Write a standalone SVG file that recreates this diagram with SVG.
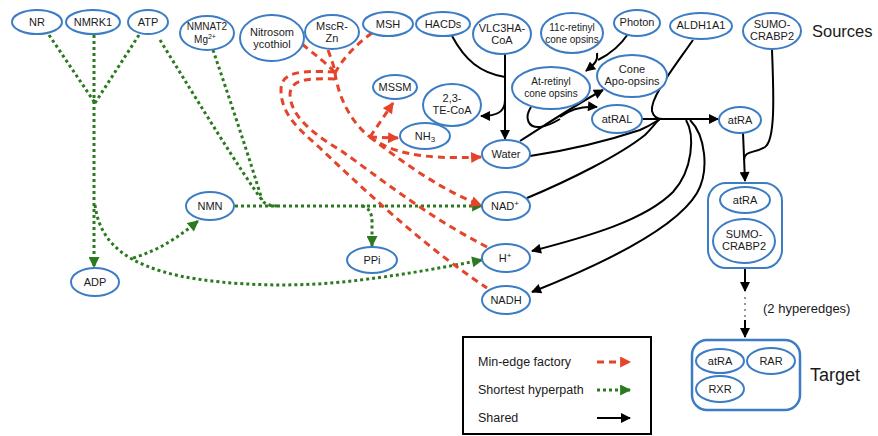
<svg xmlns="http://www.w3.org/2000/svg" width="878" height="436" viewBox="0 0 878 436">
<style>
.n ellipse{fill:#fff;stroke:#3c7cc4;stroke-width:2}
.box{fill:#fff;stroke:#3c7cc4;stroke-width:2}
text{font-family:"Liberation Sans",Arial,sans-serif;font-size:11px;fill:#1a1a1a;text-anchor:middle}
text.s10{font-size:10px}
text.lab{text-anchor:start}
text.f12{font-size:12.5px}
text.f13{font-size:13px}
text.f16{font-size:16.5px}
text.f18{font-size:18px}
.r{fill:none;stroke:#e5432a;stroke-width:3;stroke-dasharray:7 5}
.g{fill:none;stroke:#2b7a1f;stroke-width:3;stroke-dasharray:3 3}
.b{fill:none;stroke:#000;stroke-width:2}
</style>
<defs>
<marker id="ar" viewBox="0 0 10 10" refX="9" refY="5" markerWidth="12" markerHeight="11" orient="auto" markerUnits="userSpaceOnUse"><path d="M0,0 L10,5 L0,10 z" fill="#e5432a"/></marker>
<marker id="ag" viewBox="0 0 10 10" refX="9" refY="5" markerWidth="12" markerHeight="11" orient="auto" markerUnits="userSpaceOnUse"><path d="M0,0 L10,5 L0,10 z" fill="#2b7a1f"/></marker>
<marker id="ab" viewBox="0 0 10 10" refX="9" refY="5" markerWidth="11" markerHeight="10" orient="auto" markerUnits="userSpaceOnUse"><path d="M0,0 L10,5 L0,10 z" fill="#000"/></marker>
</defs>
<g id="connectors">
<path class="g" d="M49,35 L95,103"/>
<path class="g" d="M139,35 L95,103"/>
<path class="g" d="M94,35 L94,267" marker-end="url(#ag)"/>
<path class="g" d="M95,205 C100,245 130,265 180,276 C230,286 300,288 360,280 C410,274 450,266 482,260" marker-end="url(#ag)"/>
<path class="g" d="M133,258 C160,250 180,236 198,221" marker-end="url(#ag)"/>
<path class="g" d="M160,40 C200,105 240,170 262,200 Q265,206 278,206"/>
<path class="g" d="M213,50 C230,100 250,160 262,200"/>
<path class="g" d="M235,206 L482,206" marker-end="url(#ag)"/>
<path class="g" d="M362,206 Q372,208 372,222 L372,246" marker-end="url(#ag)"/>
<path class="r" d="M302,44 C315,55 328,64 335,73"/>
<path class="r" d="M328,50 C331,58 334,66 335,73"/>
<path class="r" d="M372,33 C355,45 342,60 335,73"/>
<path class="r" d="M335,72 C300,70 281,72 281,90 C281,115 300,130 320,148 C380,205 430,250 487,288"/>
<path class="r" d="M335,79 C305,78 290,80 290,95 C291,115 310,132 340,150 C380,178 425,215 487,247"/>
<path class="r" d="M335,73 C338,95 350,122 370,137"/>
<path class="r" d="M370,137 L393,103" marker-end="url(#ar)"/>
<path class="r" d="M370,137 L398,138" marker-end="url(#ar)"/>
<path class="r" d="M370,137 C390,152 420,160 481,157" marker-end="url(#ar)"/>
<path class="r" d="M370,137 C400,160 440,190 481,205" marker-end="url(#ar)"/>
<path class="b" d="M452,36 C465,60 480,73 505,77"/>
<path class="b" d="M505,54 L505,139" marker-end="url(#ab)"/>
<path class="b" d="M505,100 C505,112 497,116 481,116" marker-end="url(#ab)"/>
<path class="b" d="M628,34 C620,46 608,55 598,60"/>
<path class="b" d="M597,53 C598,60 596,63 586,71" marker-end="url(#ab)"/>
<path class="b" d="M531,107 C524,118 528,128 540,127 C548,126 555,122 560,119"/>
<path class="b" d="M520,141 C550,122 575,105 603,90" marker-end="url(#ab)"/>
<path class="b" d="M560,117 C572,108 585,106 597,107" marker-end="url(#ab)"/>
<path class="b" d="M642,119 L718,119" marker-end="url(#ab)"/>
<path class="b" d="M693,40 C672,70 650,98 652,111 Q654,119 662,119"/>
<path class="b" d="M530,156 C570,150 610,140 640,130 C650,126 655,122 660,119"/>
<path class="b" d="M527,198 C570,180 620,155 645,135 C652,128 656,122 660,119"/>
<path class="b" d="M686,120 C695,135 693,170 673,192 C645,220 590,236 532,251" marker-end="url(#ab)"/>
<path class="b" d="M690,120 C705,135 710,170 697,193 C675,230 600,265 532,292" marker-end="url(#ab)"/>
<path class="b" d="M772,50 C774,100 775,140 765,147 C753,154 745,150 744,160"/>
<path class="b" d="M743,133 L745,181" marker-end="url(#ab)"/>
<path class="b" d="M745,268 L745,291" marker-end="url(#ab)"/>
<path d="M745,297 L745,318" fill="none" stroke="#999" stroke-width="2" stroke-dasharray="2 4"/>
<path class="b" d="M745,320 L745,337" marker-end="url(#ab)"/>
</g>
<g id="NR" class="n"><ellipse cx="37" cy="22" rx="25" ry="12"/><text x="37" y="26">NR</text></g>
<g id="NMRK1" class="n"><ellipse cx="93" cy="22" rx="27" ry="12"/><text x="93" y="26">NMRK1</text></g>
<g id="ATP" class="n"><ellipse cx="148" cy="22" rx="20" ry="12"/><text x="148" y="26">ATP</text></g>
<g id="NMNAT2" class="n"><ellipse cx="207" cy="33" rx="27" ry="17"/><text class="s10" x="207" y="30">NMNAT2</text><text class="s10" x="205" y="43">Mg<tspan font-size="7" dy="-4">2+</tspan></text></g>
<g id="Nitrosomycothiol" class="n"><ellipse cx="272" cy="38" rx="32" ry="23"/><text x="272" y="36">Nitrosom</text><text x="272" y="48">ycothiol</text></g>
<g id="MscR-Zn" class="n"><ellipse cx="332" cy="32" rx="27" ry="17"/><text x="332" y="30">MscR-</text><text x="332" y="42">Zn</text></g>
<g id="MSH" class="n"><ellipse cx="388" cy="24" rx="25" ry="12"/><text x="388" y="28">MSH</text></g>
<g id="HACDs" class="n"><ellipse cx="443" cy="24" rx="27" ry="12"/><text x="443" y="28">HACDs</text></g>
<g id="VLC3HA-CoA" class="n"><ellipse cx="502" cy="34" rx="29" ry="20"/><text x="502" y="32">VLC3HA-</text><text x="502" y="44">CoA</text></g>
<g id="c11-retinyl" class="n"><ellipse cx="572" cy="33" rx="31" ry="20"/><text class="s10" x="572" y="31">11c-retinyl</text><text class="s10" x="572" y="43">cone opsins</text></g>
<g id="Photon" class="n"><ellipse cx="637" cy="23" rx="23" ry="13"/><text x="637" y="26">Photon</text></g>
<g id="ALDH1A1" class="n"><ellipse cx="701" cy="26" rx="31" ry="13"/><text x="701" y="29">ALDH1A1</text></g>
<g id="SUMO-CRABP2" class="n"><ellipse cx="772" cy="31" rx="29" ry="18"/><text x="772" y="28">SUMO-</text><text x="772" y="40">CRABP2</text></g>
<text class="lab f16" x="812" y="37">Sources</text>
<g id="At-retinyl" class="n"><ellipse cx="551" cy="88" rx="39" ry="21"/><text class="s10" x="551" y="85">At-retinyl</text><text class="s10" x="551" y="97">cone opsins</text></g>
<g id="Cone-Apo-opsins" class="n"><ellipse cx="632" cy="76" rx="35" ry="21"/><text x="632" y="73">Cone</text><text x="632" y="85">Apo-opsins</text></g>
<g id="MSSM" class="n"><ellipse cx="395" cy="87" rx="22" ry="12"/><text x="395" y="91">MSSM</text></g>
<g id="TE-CoA" class="n"><ellipse cx="452" cy="105" rx="29" ry="21"/><text x="452" y="102">2,3-</text><text x="452" y="114">TE-CoA</text></g>
<g id="NH3" class="n"><ellipse cx="425" cy="136" rx="25" ry="13"/><text x="425" y="140">NH<tspan font-size="8" dy="2">3</tspan></text></g>
<g id="atRAL" class="n"><ellipse cx="617" cy="119" rx="25" ry="14"/><text x="617" y="123">atRAL</text></g>
<g id="atRA" class="n"><ellipse cx="740" cy="120" rx="21" ry="13"/><text x="740" y="124">atRA</text></g>
<g id="Water" class="n"><ellipse cx="506" cy="154" rx="24" ry="14"/><text x="506" y="158">Water</text></g>
<g id="NADp" class="n"><ellipse cx="506" cy="206" rx="24" ry="14"/><text x="505" y="210">NAD<tspan font-size="8" dy="-4">+</tspan></text></g>
<g id="Hp" class="n"><ellipse cx="506" cy="258" rx="24" ry="14"/><text x="505" y="262">H<tspan font-size="8" dy="-4">+</tspan></text></g>
<g id="NADH" class="n"><ellipse cx="506" cy="300" rx="24" ry="14"/><text x="506" y="304">NADH</text></g>
<g id="NMN" class="n"><ellipse cx="210" cy="206" rx="24" ry="14"/><text x="210" y="210">NMN</text></g>
<g id="PPi" class="n"><ellipse cx="372" cy="260" rx="25" ry="13"/><text x="372" y="264">PPi</text></g>
<g id="ADP" class="n"><ellipse cx="95" cy="282" rx="24" ry="14"/><text x="95" y="286">ADP</text></g>
<g id="complex" class="n"><rect class="box" x="708" y="183" width="74" height="85" rx="18"/><ellipse cx="745" cy="200" rx="25" ry="13"/><text x="745" y="204">atRA</text><ellipse cx="744" cy="241" rx="31" ry="22"/><text x="744" y="238">SUMO-</text><text x="744" y="250">CRABP2</text></g>
<text class="lab f13" x="763" y="313">(2 hyperedges)</text>
<g id="target" class="n"><rect x="692" y="340" width="108" height="70" rx="15" fill="#fff" stroke="#3c7cc4" stroke-width="2.5"/><ellipse cx="720" cy="361" rx="24" ry="12"/><text x="720" y="365">atRA</text><ellipse cx="771" cy="361" rx="24" ry="13"/><text x="771" y="365">RAR</text><ellipse cx="720" cy="389" rx="24" ry="13"/><text x="720" y="393">RXR</text></g>
<text class="lab f18" x="810" y="381">Target</text>
<g id="legend">
<rect x="463" y="337" width="188" height="97" fill="#fff" stroke="#000" stroke-width="2"/>
<text class="lab f12" x="478" y="366">Min-edge factory</text>
<text class="lab f12" x="478" y="394">Shortest hyperpath</text>
<text class="lab f12" x="478" y="422">Shared</text>
<path class="r" d="M597,362 L630,362" marker-end="url(#ar)"/>
<path class="g" d="M597,390 L630,390" marker-end="url(#ag)"/>
<path class="b" d="M597,418 L630,418" marker-end="url(#ab)"/>
</g>
</svg>
